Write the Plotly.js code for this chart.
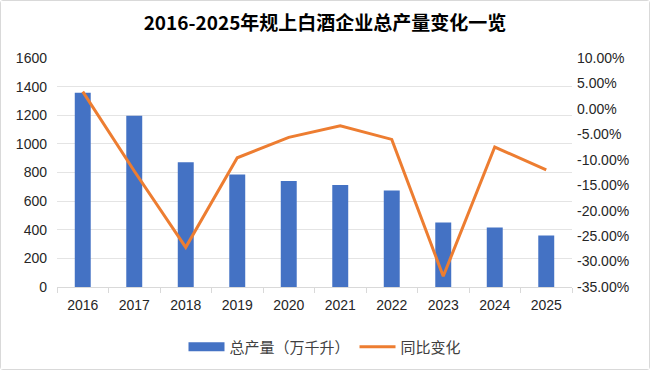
<!DOCTYPE html>
<html>
<head>
<meta charset="utf-8">
<script src="https://cdn.plot.ly/plotly-3.0.1.min.js"></script>
<style>
html,body{margin:0;padding:0;background:#fff;}
#chart{width:648px;height:368px;border:1px solid #d9d9d9;border-radius:3px;}
</style>
</head>
<body>
<div id="chart"></div>
<script>
const years = ['2016','2017','2018','2019','2020','2021','2022','2023','2024','2025'];
const output = [1358, 1196, 871, 786, 740, 712, 674, 450, 415, 360];
const yoy = [3.4, -12.2, -27.2, -9.6, -5.6, -3.3, -6.0, -32.9, -7.5, -12.0];
const rightTicks = [10, 5, 0, -5, -10, -15, -20, -25, -30, -35];
const rightTickText = rightTicks.map(v => v.toFixed(2) + '%');
const barName = '总产量（万千升）';
const lineName = '同比变化';

const font = "'Liberation Sans', 'Noto Sans CJK SC', sans-serif";
const cjk = "'Noto Sans CJK SC', sans-serif";
const tickCol = '#262626';
const traces = [
  {
    type: 'bar', x: years, y: output, name: barName, showlegend: false,
    marker: {color: '#4472C4'}, yaxis: 'y'
  },
  {
    // legend key for the bar series (wide rectangle swatch)
    type: 'scatter', mode: 'lines', x: [null], y: [null], name: barName,
    line: {color: '#4472C4', width: 9}, yaxis: 'y', hoverinfo: 'skip'
  },
  {
    type: 'scatter', mode: 'lines', x: years, y: yoy, name: lineName,
    line: {color: '#ED7D31', width: 3}, yaxis: 'y2'
  }
];
const layout = {
  width: 648, height: 368,
  margin: {l: 56, r: 77, t: 57, b: 82},
  paper_bgcolor: '#fff', plot_bgcolor: '#fff',
  font: {family: font, size: 14, color: tickCol},
  title: {text: '<b>2016-2025年规上白酒企业总产量变化一览</b>', x: 0.5, xanchor: 'center',
          y: 0.94, yanchor: 'middle',
          font: {family: cjk, size: 19, color: '#000'}},
  bargap: 0.69,
  showlegend: true,
  legend: {orientation: 'h', xref: 'container', x: 0.5, xanchor: 'center',
           yref: 'container', y: 0.06, yanchor: 'middle',
           itemwidth: 36, traceorder: 'normal',
           font: {family: cjk, size: 15, color: '#404040'}},
  xaxis: {type: 'category', showgrid: false, showline: true, linecolor: '#d9d9d9', linewidth: 1,
          ticks: 'outside', tickson: 'boundaries', ticklen: 5, tickcolor: '#d9d9d9',
          ticklabelstandoff: 5,
          tickfont: {size: 14, color: tickCol}},
  yaxis: {range: [0, 1600], dtick: 200, showgrid: true, gridcolor: '#e4e4e4', zeroline: false,
          showline: false, tickfont: {size: 14, color: tickCol}, ticks: '', ticklabelstandoff: 9},
  yaxis2: {overlaying: 'y', side: 'right', range: [-35, 10], showgrid: false, zeroline: false,
           tickmode: 'array', tickvals: rightTicks, ticktext: rightTickText, ticklabelstandoff: 4,
           tickfont: {size: 14, color: tickCol}}
};
Plotly.newPlot('chart', traces, layout, {displayModeBar: false, staticPlot: true});
</script>
</body>
</html>
